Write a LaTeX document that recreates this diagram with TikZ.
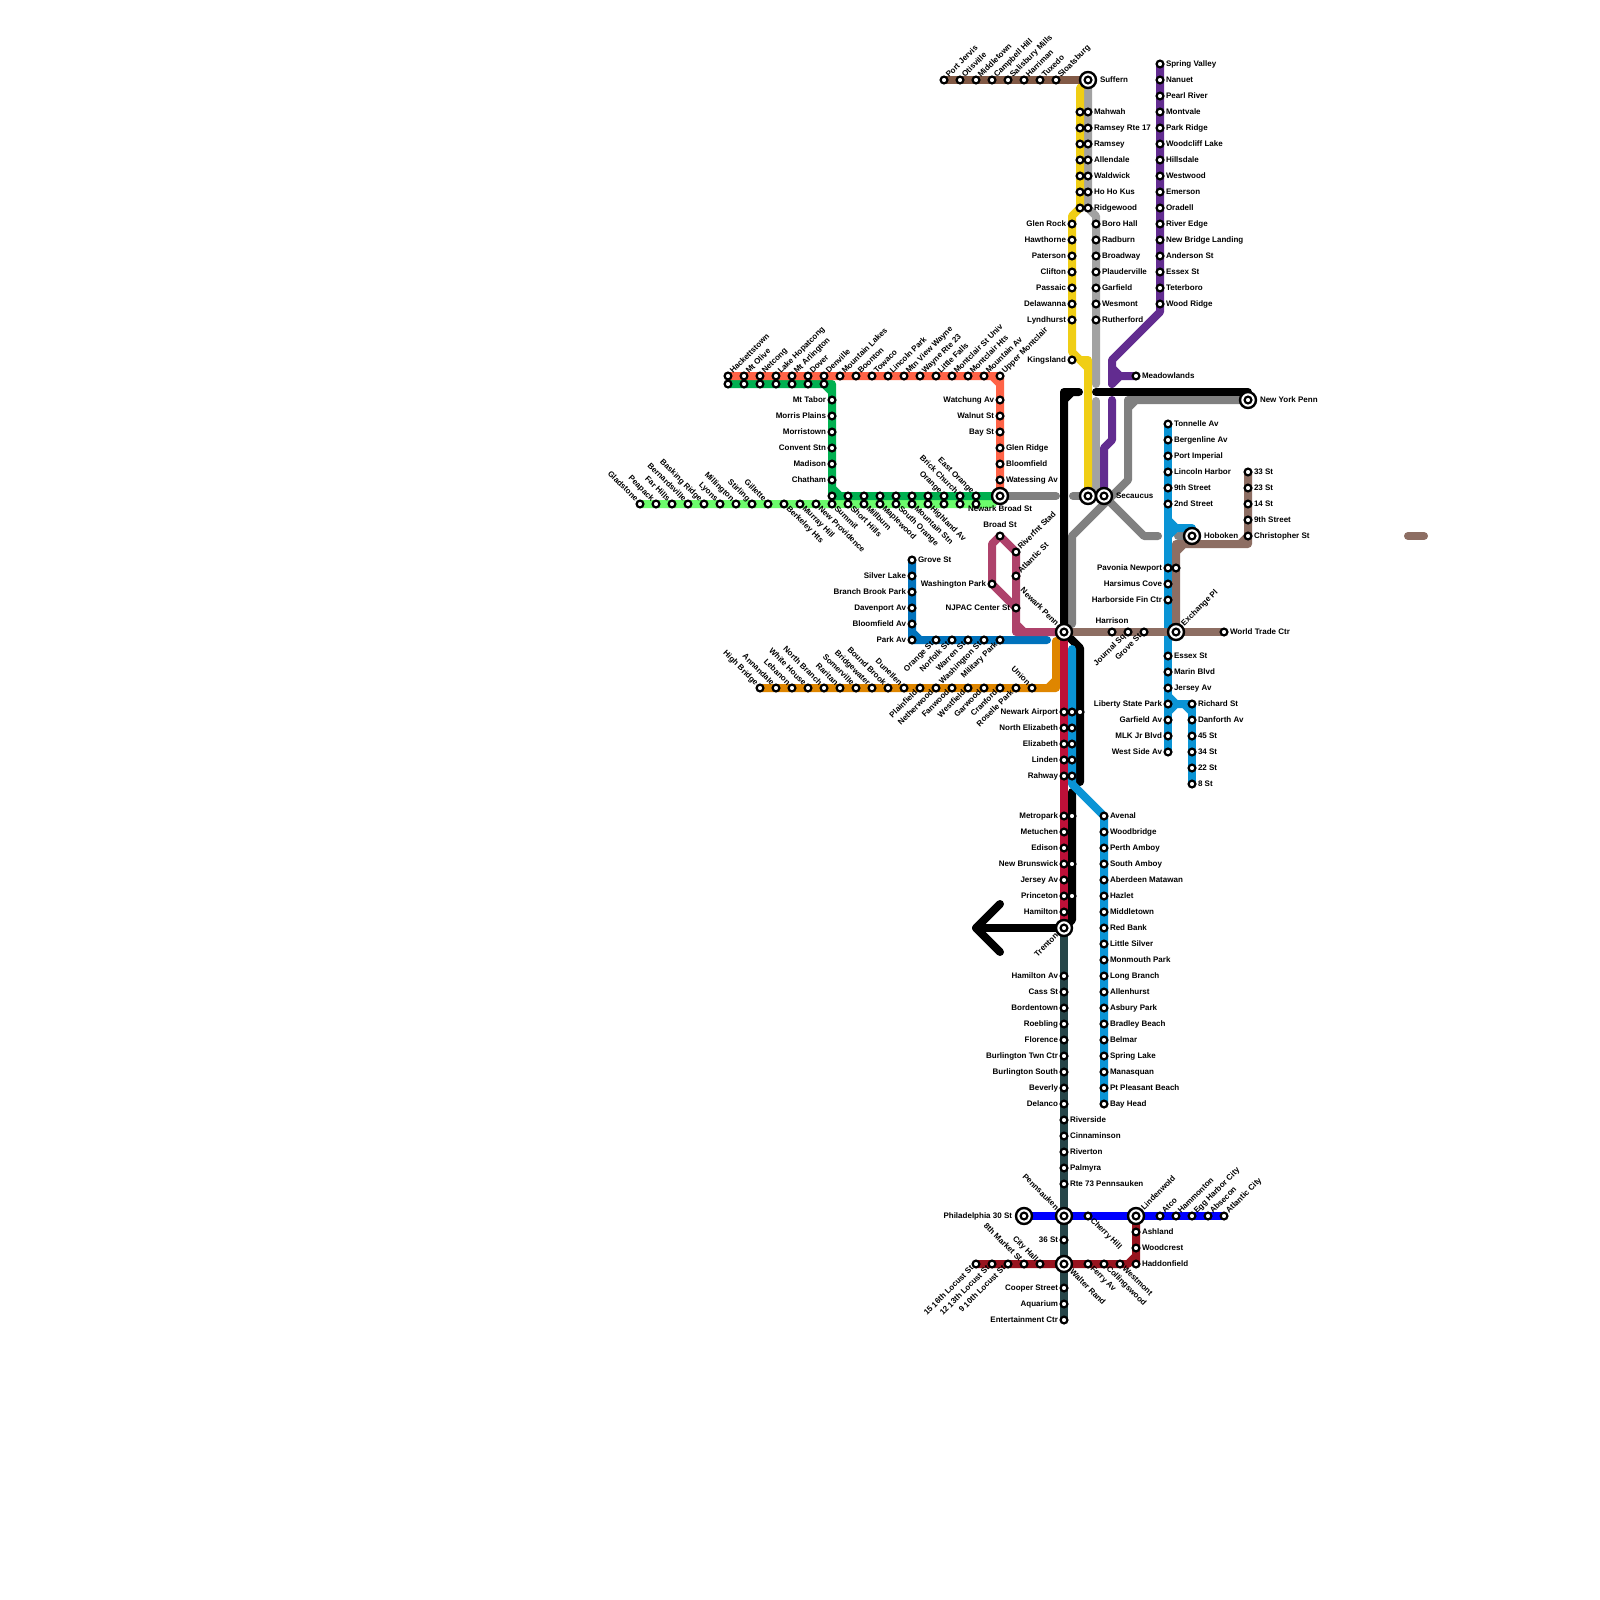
\documentclass[tikz,border=0pt]{standalone}
\usepackage{fontspec}
\newfontfamily\labfont{Liberation Sans Bold}
\pgfdeclarelayer{lines}
\pgfsetlayers{lines,main}
\definecolor{cBrownTop}{HTML}{825A46}
\definecolor{cYellow}{HTML}{F0CE15}
\definecolor{cGreyL}{HTML}{A2A2A2}
\definecolor{cGreyD}{HTML}{808080}
\definecolor{cPurple}{HTML}{622C90}
\definecolor{cGreen}{HTML}{00B050}
\definecolor{cLime}{HTML}{6CFC6C}
\definecolor{cTomato}{HTML}{FF6347}
\definecolor{cBlue}{HTML}{0072BC}
\definecolor{cPink}{HTML}{AE426B}
\definecolor{cOrange}{HTML}{DF8600}
\definecolor{cCrimson}{HTML}{BD1038}
\definecolor{cSky}{HTML}{0A94D5}
\definecolor{cPath}{HTML}{8D6E63}
\definecolor{cTeal}{HTML}{264548}
\definecolor{cPure}{HTML}{0000FF}
\definecolor{cDarkRed}{HTML}{98141F}
\tikzset{
  stn/.style={circle,draw=black,fill=white,line width=2.2pt,minimum size=6.8pt,inner sep=0pt,outer sep=0pt},
  hubring/.style={circle,draw=black,fill=white,line width=2.4pt,minimum size=16pt,inner sep=0pt,outer sep=0pt},
  lab/.style={font=\labfont\fontsize{8}{9}\selectfont,inner sep=0pt,outer sep=0pt,text height=5.8pt,text depth=1.7pt,text=black},
  lr/.style={anchor=west,xshift=6pt},
  ll/.style={anchor=east,xshift=-6pt},
  lne/.style={xshift=3.6pt,yshift=3.6pt,rotate=45,anchor=west},
  lnw/.style={xshift=-3.6pt,yshift=3.6pt,rotate=-45,anchor=east},
  lsw/.style={xshift=-3.6pt,yshift=-3.6pt,rotate=45,anchor=east},
  lse/.style={xshift=3.6pt,yshift=-3.6pt,rotate=-45,anchor=west},
  lhubr/.style={anchor=west,xshift=12pt},
  lhubl/.style={anchor=east,xshift=-12pt},
  l0/.style={},
  rail/.style={line width=8pt,line join=round,line cap=round},
}
\newcommand{\Sta}[5]{\node[stn] (#1) at (#2,#3) {};\node[lab,l#4] (#1-t) at (#2,#3) {#5};}
\newcommand{\Bare}[3]{\node[stn] (#1) at (#2,#3) {};}
\newcommand{\Hub}[5]{\node[hubring] (#1-o) at (#2,#3) {};\node[stn] (#1) at (#2,#3) {};\node[lab,l#4] (#1-t) at (#2,#3) {#5};}
% column of stations: prefix, x, side, list y/text
\newcommand{\Col}[4]{\foreach \yy/\tx in {#4}{\Sta{#1-\yy}{#2}{\yy}{#3}{\tx}}}
% row of stations: prefix, y, side, list x/text
\newcommand{\Row}[4]{\foreach \xx/\tx in {#4}{\Sta{#1-\xx}{\xx}{#2}{#3}{\tx}}}
\begin{document}
\begin{tikzpicture}[x=1pt,y=-1pt]
\useasboundingbox (0,0) rectangle (1600,1600);
% ---------- hubs
\Hub{suffern}{1088}{80}{hubr}{Suffern}
\Hub{hobok}{1192}{536}{hubr}{Hoboken}
\Hub{nypenn}{1248}{400}{hubr}{New York Penn}
\Hub{secL}{1088}{496}{0}{}
\Hub{secR}{1104}{496}{hubr}{Secaucus}
\Hub{broadst}{1000}{496}{0}{}
\node[lab,anchor=center] (broadst-l) at (1000,509) {Newark Broad St};
\Hub{npenn}{1064}{632}{0}{}
\node[lab,xshift=-7pt,yshift=7pt,rotate=-45,anchor=east] (npenn-l) at (1064,632) {Newark Penn};
\Hub{xpl}{1176}{632}{0}{}
\node[lab,xshift=7pt,yshift=7pt,rotate=45,anchor=west] (xpl-l) at (1176,632) {Exchange Pl};
\Hub{trenton}{1064}{928}{0}{}
\node[lab,xshift=-7pt,yshift=-7pt,rotate=45,anchor=east] (trenton-l) at (1064,928) {Trenton};
\Hub{phl}{1024}{1216}{hubl}{Philadelphia 30 St}
\Hub{pens}{1064}{1216}{0}{}
\node[lab,xshift=-7pt,yshift=7pt,rotate=-45,anchor=east] (pens-l) at (1064,1216) {Pennsauken};
\Hub{lind}{1136}{1216}{0}{}
\node[lab,xshift=7pt,yshift=7pt,rotate=45,anchor=west] (lind-l) at (1136,1216) {Lindenwold};
\Hub{wrand}{1064}{1264}{0}{}
\node[lab,xshift=7pt,yshift=-7pt,rotate=-45,anchor=west] (wrand-l) at (1064,1264) {Walter Rand};
% ---------- top brown
\Row{pj}{80}{ne}{944/Port Jervis,960/Otisville,976/Middletown,992/Campbell Hill,1008/Salisbury Mills,1024/Harriman,1040/Tuxedo,1056/Sloatsburg}
% ---------- yellow + grey columns
\foreach \yy in {112,128,144,160,176,192,208}{\Bare{yl-\yy}{1080}{\yy}}
\Col{gm}{1088}{r}{112/Mahwah,128/Ramsey Rte 17,144/Ramsey,160/Allendale,176/Waldwick,192/Ho Ho Kus,208/Ridgewood}
\Col{yb}{1072}{l}{224/Glen Rock,240/Hawthorne,256/Paterson,272/Clifton,288/Passaic,304/Delawanna,320/Lyndhurst,360/Kingsland}
\Col{gb}{1096}{r}{224/Boro Hall,240/Radburn,256/Broadway,272/Plauderville,288/Garfield,304/Wesmont,320/Rutherford}
% ---------- purple
\Col{pu}{1160}{r}{64/Spring Valley,80/Nanuet,96/Pearl River,112/Montvale,128/Park Ridge,144/Woodcliff Lake,160/Hillsdale,176/Westwood,192/Emerson,208/Oradell,224/River Edge,240/New Bridge Landing,256/Anderson St,272/Essex St,288/Teterboro,304/Wood Ridge}
\Sta{meadow}{1136}{376}{r}{Meadowlands}
% ---------- tomato
\Row{mo}{376}{ne}{728/Hackettstown,744/Mt Olive,760/Netcong,776/Lake Hopatcong,792/Mt Arlington,808/Dover,824/Denville,840/Mountain Lakes,856/Boonton,872/Towaco,888/Lincoln Park,904/Mtn View Wayne,920/Wayne Rte 23,936/Little Falls,952/Montclair St Univ,968/Montclair Hts,984/Mountain Av,1000/Upper Montclair}
\Col{mt}{1000}{l}{400/Watchung Av,416/Walnut St,432/Bay St}
\Col{mtb}{1000}{r}{448/Glen Ridge,464/Bloomfield,480/Watessing Av}
% ---------- green
\foreach \xx in {728,744,760,776,792,808,824}{\Bare{gr-\xx}{\xx}{384}}
\Col{gv}{832}{l}{400/Mt Tabor,416/Morris Plains,432/Morristown,448/Convent Stn,464/Madison,480/Chatham}
\foreach \xx in {832,848,864,880,896,912,928}{\Bare{gh-\xx}{\xx}{496}}
\Row{gup}{496}{nw}{944/Orange,960/Brick Church,976/East Orange}
% ---------- lime
\Row{lu}{504}{nw}{640/Gladstone,656/Peapack,672/Far Hills,688/Bernardsville,704/Basking Ridge,720/Lyons,736/Millington,752/Stirling,768/Gillette}
\Row{ld}{504}{se}{784/Berkeley Hts,800/Murray Hill,816/New Providence,832/Summit,848/Short Hills,864/Millburn,880/Maplewood,896/South Orange,912/Mountain Stn,928/Highland Av}
\foreach \xx in {944,960,976}{\Bare{lb-\xx}{\xx}{504}}
% ---------- pink
\Sta{bst}{1000}{536}{0}{}
\node[lab,anchor=center] (bst-l) at (1000,525) {Broad St};
\Sta{riv}{1016}{552}{ne}{Riverfnt Stad}
\Sta{atl}{1016}{576}{ne}{Atlantic St}
\Sta{wpk}{992}{584}{l}{Washington Park}
\Sta{njp}{1016}{608}{l}{NJPAC Center St}
% ---------- blue
\Sta{grove}{912}{560}{r}{Grove St}
\Col{bv}{912}{l}{576/Silver Lake,592/Branch Brook Park,608/Davenport Av,624/Bloomfield Av,640/Park Av}
\Row{bh}{640}{sw}{936/Orange St,952/Norfolk St,968/Warren St,984/Washington St,1000/Military Park}
% ---------- orange
\Row{ou}{688}{nw}{760/High Bridge,776/Annandale,792/Lebanon,808/White House,824/North Branch,840/Raritan,856/Somerville,872/Bridgewater,888/Bound Brook,904/Dunellen,1032/Union}
\Row{od}{688}{sw}{920/Plainfield,936/Netherwood,952/Fanwood,968/Westfield,984/Garwood,1000/Cranford,1016/Roselle Park}
% ---------- PATH brown
\Sta{harr}{1112}{632}{0}{}
\node[lab,anchor=center] (harr-l) at (1112,621) {Harrison};
\Row{pth}{632}{sw}{1128/Journal Sq,1144/Grove St}
\Sta{wtc}{1224}{632}{r}{World Trade Ctr}
\Col{hud}{1248}{r}{472/33 St,488/23 St,504/14 St,520/9th Street,536/Christopher St}
% ---------- HBLR
\Col{hn}{1168}{r}{424/Tonnelle Av,440/Bergenline Av,456/Port Imperial,472/Lincoln Harbor,488/9th Street,504/2nd Street}
\Col{hm}{1168}{l}{568/Pavonia Newport,584/Harsimus Cove,600/Harborside Fin Ctr}
\Bare{pav2}{1176}{568}
\Col{hs}{1168}{r}{656/Essex St,672/Marin Blvd,688/Jersey Av}
\Col{hw}{1168}{l}{704/Liberty State Park,720/Garfield Av,736/MLK Jr Blvd,752/West Side Av}
\Col{hr}{1192}{r}{704/Richard St,720/Danforth Av,736/45 St,752/34 St,768/22 St,784/8 St}
% ---------- NEC
\Col{ne}{1064}{l}{712/Newark Airport,728/North Elizabeth,744/Elizabeth,760/Linden,776/Rahway,816/Metropark,832/Metuchen,848/Edison,864/New Brunswick,880/Jersey Av,896/Princeton,912/Hamilton}
\foreach \yy in {712,728,744,760,776,816,864,896}{\Bare{nb-\yy}{1072}{\yy}}
\Bare{nc-712}{1080}{712}
% ---------- NJCL
\Col{nj}{1104}{r}{816/Avenal,832/Woodbridge,848/Perth Amboy,864/South Amboy,880/Aberdeen Matawan,896/Hazlet,912/Middletown,928/Red Bank,944/Little Silver,960/Monmouth Park,976/Long Branch,992/Allenhurst,1008/Asbury Park,1024/Bradley Beach,1040/Belmar,1056/Spring Lake,1072/Manasquan,1088/Pt Pleasant Beach,1104/Bay Head}
% ---------- River line
\Col{rl}{1064}{l}{976/Hamilton Av,992/Cass St,1008/Bordentown,1024/Roebling,1040/Florence,1056/Burlington Twn Ctr,1072/Burlington South,1088/Beverly,1104/Delanco,1240/36 St,1288/Cooper Street,1304/Aquarium,1320/Entertainment Ctr}
\Col{rr}{1064}{r}{1120/Riverside,1136/Cinnaminson,1152/Riverton,1168/Palmyra,1184/Rte 73 Pennsauken}
% ---------- Atlantic City
\Sta{cherry}{1088}{1216}{se}{Cherry Hill}
\Row{ac}{1216}{ne}{1160/Atco,1176/Hammonton,1192/Egg Harbor City,1208/Absecon,1224/Atlantic City}
% ---------- PATCO
\Row{pa}{1264}{sw}{976/15 16th Locust St,992/12 13th Locust St,1008/9 10th Locust St}
\Row{pb}{1264}{nw}{1024/8th Market St,1040/City Hall}
\Row{pc}{1264}{se}{1088/Ferry Av,1104/Collingswood,1120/Westmont}
\Col{pd}{1136}{r}{1232/Ashland,1248/Woodcrest,1264/Haddonfield}
% ---------- free ends
\coordinate (stray1) at (1408,536);
\coordinate (stray2) at (1424,536);
\coordinate (arrowTip) at (976,928);
\coordinate (arrowUp) at (1000,904);
\coordinate (arrowDn) at (1000,952);
% ========== lines
\begin{pgfonlayer}{lines}
\fill[white] (0,0) rectangle (1600,1600);
\draw[rail,cPath] (stray1) -- (stray2);
% dark grey
\draw[rail,cGreyD] (nypenn.center) -- (1128,400) -- (1128,480) -- (1072,536) -- (1072,624) (1136,400) -- (1128,408);
\draw[rail,cGreyD] (secR.center) -- (1108,500) -- (1144,536) -- (1158,536);
\draw[rail,cGreyD] (1178,536) -- (hobok.center);
\draw[rail,cGreyD] (broadst.center) -- (1056,496);
\draw[rail,cGreyD] (1073,496) -- (secL.center);
% light grey
\draw[rail,cGreyL] (suffern.center) -- (gm-208.center) -- (1096,216) -- (gb-320.center) -- (1096,384);
\draw[rail,cGreyL] (1096,401) -- (1096,490);
% black
\draw[rail,black] (npenn.center) -- (1064,392) -- (1079,392) (1064,400) -- (1072,392);
\draw[rail,black] (1096,392) -- (1248,392) -- (nypenn.center);
\draw[rail,black] (npenn.center) -- (1080,648) -- (1080,782);
\draw[rail,black] (1072,792) -- (1072,920) -- (trenton.center);
\draw[rail,black] (trenton.center) -- (arrowTip);
\draw[rail,black] (arrowUp) -- (arrowTip) -- (arrowDn);
% yellow
\draw[rail,cYellow] (suffern.center) -- (1080,88) -- (yl-208.center) -- (1072,216) -- (yb-320.center) -- (1072,352) -- (1080,360) -- (1088,360) -- (secL.center) (1080,360) -- (1088,368);
% purple
\draw[rail,cPurple] (pu-64.center) -- (1160,312) -- (1112,360) -- (1112,384);
\draw[rail,cPurple] (meadow.center) -- (1120,376) -- (1112,368) (1120,376) -- (1112,384);
\draw[rail,cPurple] (1112,400) -- (1112,440) -- (1104,448) -- (secR.center);
% brown top
\draw[rail,cBrownTop] (pj-944.center) -- (suffern.center);
% tomato, green, lime
\draw[rail,cLime] (lu-640.center) -- (992,504) -- (broadst.center);
\draw[rail,cGreen] (gr-728.center) -- (832,384) -- (832,496) -- (broadst.center) (824,384) -- (832,392) (832,488) -- (840,496);
\draw[rail,cTomato] (mo-728.center) -- (mo-1000.center) -- (broadst.center) (992,376) -- (1000,384);
% blue
\draw[rail,cBlue] (grove.center) -- (912,640) -- (1047,640) (912,632) -- (920,640);
% pink
\draw[rail,cPink] (bst.center) -- (992,544) -- (wpk.center) -- (njp.center) -- (1016,632) -- (npenn.center) (1016,624) -- (1024,632);
\draw[rail,cPink] (bst.center) -- (riv.center) -- (njp.center);
% orange
\draw[rail,cOrange] (1056,641) -- (1056,688) -- (ou-760.center) (1056,680) -- (1048,688);
% crimson
\draw[rail,cCrimson] (npenn.center) -- (trenton.center);
% sky
\draw[rail,cSky] (1072,649) -- (1072,784) -- (nj-816.center) -- (nj-1104.center);
\draw[rail,cSky] (hn-424.center) -- (hw-752.center);
\draw[rail,cSky] (1168,520) -- (1176,528) -- (1192,528) -- (hobok.center) (1176,528) -- (1168,536);
\draw[rail,cSky] (1168,696) -- (1176,704) -- (1184,704) -- (1192,712) (1176,704) -- (1168,712);
\draw[rail,cSky] (hr-704.center) -- (hr-784.center) (1184,704) -- (hr-704.center);
% PATH brown
\draw[rail,cPath] (npenn.center) -- (wtc.center);
\draw[rail,cPath] (xpl.center) -- (1176,544) -- (1248,544) -- (hud-472.center) (1176,552) -- (1184,544) (1240,544) -- (1248,536);
% teal
\draw[rail,cTeal] (trenton.center) -- (rl-1320.center);
% pure blue
\draw[rail,cPure] (phl.center) -- (ac-1224.center);
% dark red
\draw[rail,cDarkRed] (pa-976.center) -- (1128,1264) -- (1136,1256) (lind.center) -- (pd-1264.center);
\end{pgfonlayer}
\end{tikzpicture}
\end{document}
